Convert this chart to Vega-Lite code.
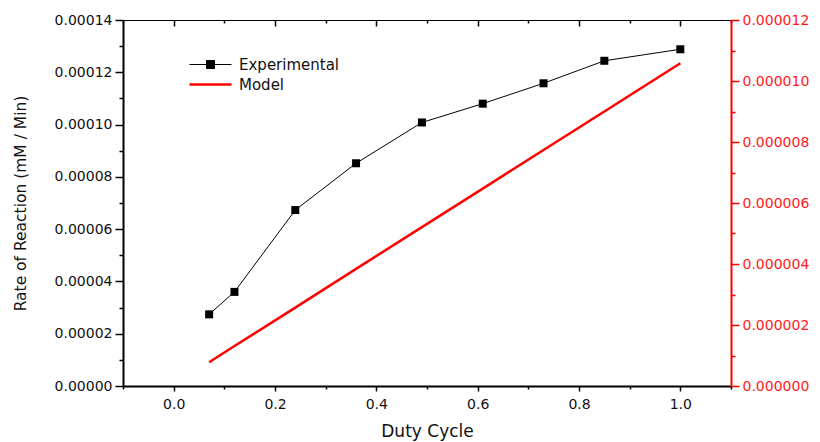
{
  "$schema": "https://vega.github.io/schema/vega-lite/v6.json",
  "width": 608,
  "height": 366,
  "autosize": "none",
  "padding": {"left": 123, "top": 20, "right": 89, "bottom": 56},
  "config": {
    "view": {"stroke": null},
    "font": "DejaVu Sans",
    "axis": {"labelFont": "DejaVu Sans", "titleFont": "DejaVu Sans", "labelColor": "#111", "titleColor": "#111", "grid": false, "titleFontWeight": "normal"}
  },
  "layer": [
    {
      "data": {"values": [
        {"duty": 0.07, "rate": 0.0000274, "series": "Experimental"},
        {"duty": 0.12, "rate": 0.0000360, "series": "Experimental"},
        {"duty": 0.24, "rate": 0.0000673, "series": "Experimental"},
        {"duty": 0.36, "rate": 0.0000852, "series": "Experimental"},
        {"duty": 0.49, "rate": 0.0001008, "series": "Experimental"},
        {"duty": 0.61, "rate": 0.0001080, "series": "Experimental"},
        {"duty": 0.73, "rate": 0.0001158, "series": "Experimental"},
        {"duty": 0.85, "rate": 0.0001244, "series": "Experimental"},
        {"duty": 1.00, "rate": 0.0001288, "series": "Experimental"}
      ]},
      "mark": {"type": "line", "strokeWidth": 1, "point": {"shape": "square", "size": 64, "filled": true, "opacity": 1}},
      "encoding": {
        "x": {
          "field": "duty", "type": "quantitative",
          "scale": {"domain": [-0.1, 1.1], "nice": false, "zero": false},
          "axis": {
            "orient": "bottom",
            "title": "Duty Cycle", "titleFontSize": 17, "titlePadding": 12,
            "values": [-0.1, 0, 0.1, 0.2, 0.3, 0.4, 0.5, 0.6, 0.7, 0.8, 0.9, 1.0, 1.1],
            "labelExpr": "round(datum.value*10) % 2 == 0 ? format(datum.value, '.1f') : ''",
            "labelFontSize": 14, "labelPadding": 6,
            "tickSize": {"condition": {"test": "round(datum.value*10) % 2 == 0", "value": 5}, "value": 3},
            "tickColor": "black", "tickWidth": 1.5,
            "domainColor": "black", "domainWidth": 2
          }
        },
        "y": {
          "field": "rate", "type": "quantitative",
          "scale": {"domain": [0, 0.00014], "nice": false},
          "axis": {
            "orient": "left",
            "title": "Rate of Reaction (mM / Min)", "titleFontSize": 15.5, "titlePadding": 26,
            "values": [0, 0.00001, 0.00002, 0.00003, 0.00004, 0.00005, 0.00006, 0.00007, 0.00008, 0.00009, 0.0001, 0.00011, 0.00012, 0.00013, 0.00014],
            "labelExpr": "round(datum.value*1e5) % 2 == 0 ? format(datum.value, '.5f') : ''",
            "labelFontSize": 14, "labelPadding": 3,
            "tickSize": {"condition": {"test": "round(datum.value*1e5) % 2 == 0", "value": 8}, "value": 4},
            "tickColor": "black", "tickWidth": 1.5,
            "domainColor": "black", "domainWidth": 2
          }
        },
        "color": {
          "field": "series", "type": "nominal",
          "scale": {"domain": ["Experimental", "Model"], "range": ["black", "red"]},
          "legend": {
            "title": null, "orient": "none", "legendX": 80, "legendY": 37,
            "padding": 0, "rowPadding": 4, "symbolSize": 400,
            "labelFont": "DejaVu Sans", "labelFontSize": 15, "labelColor": "#111", "labelOffset": 21,
            "encode": {
              "symbols": {"update": {
                "shape": {"signal": "datum.value === 'Model' ? 'M-2.1,0H2.1' : 'M-2.1,0H2.1M-0.4,-0.4H0.4V0.4H-0.4Z'"},
                "fill": {"signal": "datum.value === 'Model' ? 'transparent' : 'black'"},
                "stroke": {"signal": "datum.value === 'Model' ? 'red' : '#444'"},
                "strokeWidth": {"signal": "datum.value === 'Model' ? 2.5 : 1"},
                "opacity": {"value": 1}
              }}
            }
          }
        }
      }
    },
    {
      "data": {"values": [
        {"duty": 0.07, "rate": 0.00000078, "series": "Model"},
        {"duty": 0.12, "rate": 0.00000131, "series": "Model"},
        {"duty": 0.24, "rate": 0.00000257, "series": "Model"},
        {"duty": 0.36, "rate": 0.00000384, "series": "Model"},
        {"duty": 0.49, "rate": 0.00000521, "series": "Model"},
        {"duty": 0.61, "rate": 0.00000647, "series": "Model"},
        {"duty": 0.73, "rate": 0.00000774, "series": "Model"},
        {"duty": 0.85, "rate": 0.00000900, "series": "Model"},
        {"duty": 1.00, "rate": 0.00001058, "series": "Model"}
      ]},
      "mark": {"type": "line", "strokeWidth": 2.5},
      "encoding": {
        "x": {"field": "duty", "type": "quantitative", "scale": {"domain": [-0.1, 1.1], "nice": false, "zero": false},
          "axis": {
            "orient": "top", "title": null, "labels": false,
            "values": [-0.1, 0, 0.1, 0.2, 0.3, 0.4, 0.5, 0.6, 0.7, 0.8, 0.9, 1.0, 1.1],
            "tickSize": {"condition": {"test": "round(datum.value*10) % 2 == 0", "value": -6}, "value": -3},
            "tickColor": "black", "tickWidth": 1.5,
            "domainColor": "black", "domainWidth": 1
          }
        },
        "y": {
          "field": "rate", "type": "quantitative",
          "scale": {"domain": [0, 0.000012], "nice": false},
          "axis": {
            "orient": "right", "title": null,
            "values": [0, 0.000001, 0.000002, 0.000003, 0.000004, 0.000005, 0.000006, 0.000007, 0.000008, 0.000009, 0.00001, 0.000011, 0.000012],
            "labelExpr": "round(datum.value*1e6) % 2 == 0 ? format(datum.value, '.6f') : ''",
            "labelFontSize": 14, "labelPadding": 3, "labelColor": "#ff1a1a",
            "tickSize": {"condition": {"test": "round(datum.value*1e6) % 2 == 0", "value": 8}, "value": 4},
            "tickColor": "red", "tickWidth": 1.5,
            "domainColor": "red", "domainWidth": 2
          }
        },
        "color": {"field": "series", "type": "nominal"}
      }
    }
  ],
  "resolve": {"scale": {"y": "independent"}}
}
